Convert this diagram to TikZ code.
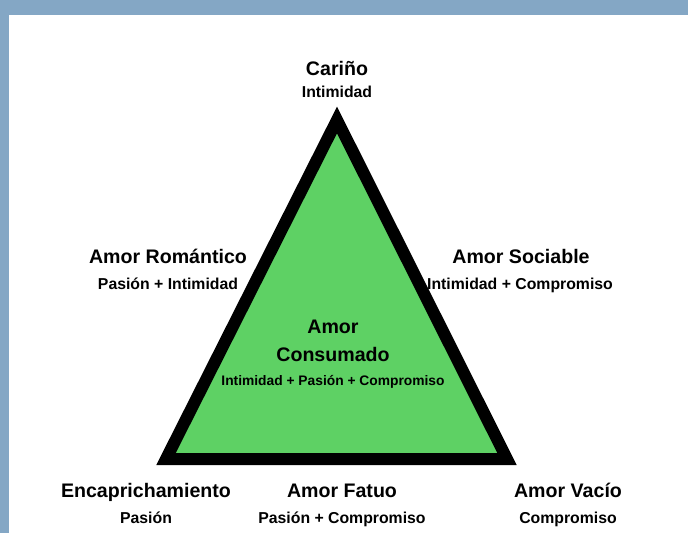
\documentclass[tikz,border=0pt]{standalone}
\usepackage{fontspec}
\setmainfont{Liberation Sans}
\definecolor{framebg}{RGB}{132,167,197}
\definecolor{trigreen}{RGB}{94,209,100}
\tikzset{
  ttl/.style={anchor=base,inner sep=0pt,font=\bfseries\fontsize{19.6}{22}\selectfont},
  sub/.style={anchor=base,inner sep=0pt,font=\bfseries\fontsize{15.8}{18}\selectfont},
  subsmall/.style={anchor=base,inner sep=0pt,font=\bfseries\fontsize{13.8}{16}\selectfont},
}
\begin{document}
\begin{tikzpicture}[x=1pt,y=-1pt]
\fill[framebg] (0,0) rectangle (688,533);
\fill[white] (9,15) rectangle (688,533);
\useasboundingbox (0,0) rectangle (688,533);
\coordinate (apex) at (337,120);
\coordinate (bl) at (166,459);
\coordinate (br) at (507,459);
\filldraw[fill=trigreen,draw=black,line width=12pt,line join=miter] (apex) -- (bl) -- (br) -- cycle;
\node[ttl] (carino) at (337,75) {Cariño};
\node[sub] (carinosub) at (337,97) {Intimidad};
\node[ttl] (romantico) at (168,263) {Amor Romántico};
\node[sub] (romanticosub) at (168,289) {Pasión + Intimidad};
\node[ttl] (sociable) at (521,263) {Amor Sociable};
\node[sub] (sociablesub) at (520,289) {Intimidad + Compromiso};
\node[ttl] (consumado1) at (333,333) {Amor};
\node[ttl] (consumado2) at (333,361) {Consumado};
\node[subsmall] (consumadosub) at (333,385) {Intimidad + Pasión + Compromiso};
\node[ttl] (encap) at (146,497) {Encaprichamiento};
\node[sub] (encapsub) at (146,523) {Pasión};
\node[ttl] (fatuo) at (342,497) {Amor Fatuo};
\node[sub] (fatuosub) at (342,523) {Pasión + Compromiso};
\node[ttl] (vacio) at (568,497) {Amor Vacío};
\node[sub] (vaciosub) at (568,523) {Compromiso};
\end{tikzpicture}
\end{document}
